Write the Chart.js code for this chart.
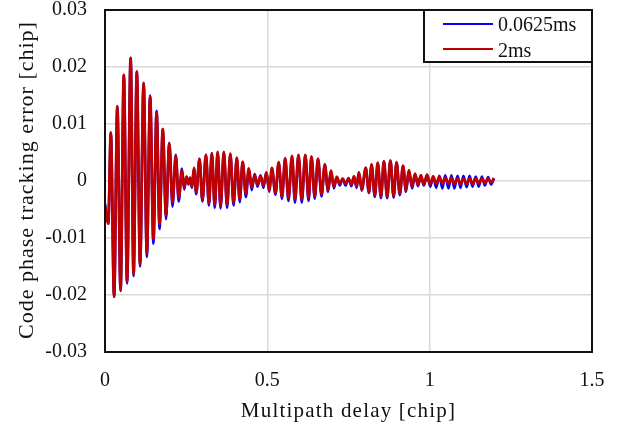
<!DOCTYPE html>
<html>
<head>
<meta charset="utf-8">
<script src="https://cdn.jsdelivr.net/npm/chart.js@4.4.0/dist/chart.umd.min.js"></script>
<style>
  html, body { margin: 0; padding: 0; background: #ffffff; }
  #wrap { width: 622px; height: 429px; }
</style>
</head>
<body>
<div id="wrap"><canvas id="grafico"></canvas></div>
<script>
// Atraso de multipercurso [chip] em cada pico/vale da curva de erro
const atraso = [
  0.000, 0.010, 0.018, 0.028, 0.038, 0.048, 0.058, 0.068, 0.079, 0.088,
  0.098, 0.108, 0.119, 0.129, 0.139, 0.149, 0.159, 0.168, 0.178, 0.188,
  0.198, 0.208, 0.218, 0.227, 0.237, 0.244, 0.251, 0.257, 0.262, 0.268,
  0.274, 0.281, 0.291, 0.300, 0.311, 0.320, 0.329, 0.338, 0.347, 0.356,
  0.366, 0.376, 0.386, 0.396, 0.406, 0.415, 0.424, 0.434, 0.443, 0.452,
  0.461, 0.470, 0.479, 0.488, 0.497, 0.506, 0.514, 0.525, 0.535, 0.545,
  0.555, 0.565, 0.576, 0.585, 0.596, 0.606, 0.617, 0.627, 0.636, 0.646,
  0.656, 0.667, 0.677, 0.687, 0.696, 0.705, 0.714, 0.723, 0.732, 0.741,
  0.750, 0.759, 0.767, 0.775, 0.782, 0.791, 0.803, 0.813, 0.821, 0.831,
  0.840, 0.850, 0.859, 0.869, 0.879, 0.889, 0.898, 0.908, 0.918, 0.927,
  0.936, 0.946, 0.955, 0.964, 0.973, 0.982, 0.992, 1.002, 1.011, 1.020,
  1.030, 1.039, 1.048, 1.058, 1.067, 1.076, 1.086, 1.095, 1.104, 1.114,
  1.123, 1.132, 1.142, 1.151, 1.161, 1.170, 1.180, 1.189, 1.198
];

// Erro de rastreio [chip] - integração 0.0625ms (azul)
const erroCurto = [
  -0.0040, -0.0075, 0.0085, -0.0203, 0.0131, -0.0193, 0.0186, -0.0180, 0.0216, -0.0167,
  0.0192, -0.0150, 0.0172, -0.0133, 0.0150, -0.0110, 0.0123, -0.0084, 0.0091, -0.0067,
  0.0067, -0.0045, 0.0046, -0.0036, 0.0022, -0.0015, 0.0008, -0.0006, 0.0005, -0.0012,
  0.0022, -0.0023, 0.0038, -0.0036, 0.0046, -0.0043, 0.0048, -0.0047, 0.0050, -0.0048,
  0.0050, -0.0047, 0.0047, -0.0043, 0.0040, -0.0037, 0.0033, -0.0028, 0.0021, -0.0016,
  0.0012, -0.0010, 0.0010, -0.0012, 0.0015, -0.0019, 0.0022, -0.0024, 0.0032, -0.0031,
  0.0039, -0.0035, 0.0043, -0.0038, 0.0045, -0.0038, 0.0045, -0.0035, 0.0042, -0.0031,
  0.0038, -0.0027, 0.0028, -0.0019, 0.0018, -0.0013, 0.0007, -0.0008, 0.0004, -0.0008,
  0.0005, -0.0009, 0.0008, -0.0012, 0.0015, -0.0017, 0.0023, -0.0021, 0.0028, -0.0028,
  0.0031, -0.0030, 0.0034, -0.0030, 0.0035, -0.0029, 0.0032, -0.0025, 0.0026, -0.0019,
  0.0018, -0.0013, 0.0012, -0.0009, 0.0010, -0.0008, 0.0010, -0.0010, 0.0008, -0.0012,
  0.0009, -0.0013, 0.0010, -0.0013, 0.0010, -0.0013, 0.0009, -0.0012, 0.0009, -0.0011,
  0.0009, -0.0010, 0.0008, -0.0010, 0.0008, -0.0008, 0.0007, -0.0006, 0.0005
];

// Erro de rastreio [chip] - integração 2ms (vermelho)
const erroLongo = [
  -0.0044, -0.0075, 0.0085, -0.0203, 0.0131, -0.0191, 0.0186, -0.0176, 0.0216, -0.0162,
  0.0192, -0.0145, 0.0172, -0.0127, 0.0149, -0.0102, 0.0120, -0.0076, 0.0091, -0.0060,
  0.0066, -0.0038, 0.0044, -0.0029, 0.0018, -0.0012, 0.0007, -0.0004, 0.0006, -0.0010,
  0.0023, -0.0020, 0.0039, -0.0033, 0.0046, -0.0039, 0.0049, -0.0042, 0.0051, -0.0043,
  0.0051, -0.0042, 0.0048, -0.0038, 0.0041, -0.0032, 0.0034, -0.0022, 0.0022, -0.0011,
  0.0010, -0.0006, 0.0009, -0.0008, 0.0015, -0.0016, 0.0023, -0.0021, 0.0033, -0.0027,
  0.0040, -0.0030, 0.0044, -0.0032, 0.0046, -0.0032, 0.0046, -0.0030, 0.0043, -0.0027,
  0.0039, -0.0023, 0.0029, -0.0016, 0.0018, -0.0010, 0.0007, -0.0005, 0.0004, -0.0005,
  0.0004, -0.0006, 0.0008, -0.0010, 0.0015, -0.0015, 0.0023, -0.0019, 0.0029, -0.0025,
  0.0032, -0.0027, 0.0035, -0.0027, 0.0036, -0.0026, 0.0033, -0.0022, 0.0027, -0.0016,
  0.0019, -0.0010, 0.0013, -0.0007, 0.0010, -0.0006, 0.0011, -0.0006, 0.0008, -0.0005,
  0.0007, -0.0004, 0.0006, -0.0004, 0.0006, -0.0005, 0.0005, -0.0005, 0.0004, -0.0005,
  0.0005, -0.0005, 0.0005, -0.0004, 0.0005, -0.0004, 0.0005, -0.0003, 0.0005
];

const nomesSeries = ['0.0625ms', '2ms'];
const coresSeries = ['#0000ff', '#c00000'];

const xTicks = [0, 0.5, 1, 1.5];
const xTickLabels = ['0', '0.5', '1', '1.5'];
const yTicks = [-0.03, -0.02, -0.01, 0, 0.01, 0.02, 0.03];
const yTickLabels = ['-0.03', '-0.02', '-0.01', '0', '0.01', '0.02', '0.03'];

const tituloX = 'Multipath delay [chip]';
const tituloY = 'Code phase tracking error [chip]';

const fonteSerif = '"Liberation Serif", "DejaVu Serif", serif';

function montarPontos(valores) {
    return atraso.map((x, i) => ({ x: x, y: valores[i] }));
}

// Moldura, legenda em caixa e títulos dos eixos (com espaçamento entre letras)
const pluginMoldura = {
    id: 'moldura',
    afterDraw(chart) {
        const ctx = chart.ctx;
        const area = chart.chartArea;
        ctx.save();

        // moldura do gráfico
        ctx.strokeStyle = '#111';
        ctx.lineWidth = 2;
        ctx.strokeRect(area.left, area.top, area.right - area.left, area.bottom - area.top);

        // caixa da legenda
        const larg = 168, alt = 52;
        const lx = area.right - larg, ly = area.top;
        ctx.fillStyle = '#ffffff';
        ctx.fillRect(lx, ly, larg, alt);
        ctx.strokeRect(lx, ly, larg, alt);

        ctx.font = '20px ' + fonteSerif;
        ctx.textAlign = 'left';
        ctx.textBaseline = 'alphabetic';
        const linhasY = [ly + 14, ly + 39];
        const textoY = [ly + 21, ly + 47];
        nomesSeries.forEach((nome, i) => {
            ctx.strokeStyle = coresSeries[i];
            ctx.lineWidth = 2;
            ctx.beginPath();
            ctx.moveTo(lx + 19, linhasY[i]);
            ctx.lineTo(lx + 69, linhasY[i]);
            ctx.stroke();
            ctx.fillStyle = '#111';
            ctx.fillText(nome, lx + 74, textoY[i]);
        });

        // títulos dos eixos
        ctx.font = '21px ' + fonteSerif;
        ctx.letterSpacing = '1.2px';
        ctx.fillStyle = '#111';
        ctx.textAlign = 'center';
        ctx.fillText(tituloX, (area.left + area.right) / 2, 417);

        ctx.translate(33, 180);
        ctx.rotate(-Math.PI / 2);
        ctx.font = '22px ' + fonteSerif;
        ctx.letterSpacing = '1px';
        ctx.fillText(tituloY, 0, 0);
        ctx.restore();
    }
};

const ctx = document.getElementById('grafico').getContext('2d');

new Chart(ctx, {
    type: 'line',
    data: {
        datasets: [
            {
                label: nomesSeries[0],
                data: montarPontos(erroCurto),
                borderColor: coresSeries[0],
                borderWidth: 2.6,
                pointRadius: 0,
                cubicInterpolationMode: 'monotone',
                order: 2
            },
            {
                label: nomesSeries[1],
                data: montarPontos(erroLongo),
                borderColor: coresSeries[1],
                borderWidth: 2.8,
                pointRadius: 0,
                cubicInterpolationMode: 'monotone',
                order: 1
            }
        ]
    },
    options: {
        responsive: true,
        maintainAspectRatio: false,
        animation: false,
        layout: { padding: { top: 10, right: 30, left: 0, bottom: 0 } },
        plugins: {
            legend: { display: false },
            tooltip: { enabled: false }
        },
        scales: {
            x: {
                type: 'linear',
                min: 0,
                max: 1.5,
                afterFit: (scale) => {
                    scale.height = 77;
                    scale.paddingLeft = 0;
                    scale.paddingRight = 0;
                },
                afterBuildTicks: (scale) => { scale.ticks = xTicks.map(v => ({ value: v })); },
                grid: { color: '#d9d9d9', lineWidth: 1.5, drawTicks: false },
                border: { display: false },
                ticks: {
                    padding: 17,
                    color: '#111',
                    maxRotation: 0,
                    font: { family: fonteSerif, size: 20 },
                    callback: (v, i) => xTickLabels[i]
                }
            },
            y: {
                min: -0.03,
                max: 0.03,
                afterFit: (scale) => {
                    scale.width = 105;
                    scale.paddingTop = 0;
                    scale.paddingBottom = 0;
                },
                afterBuildTicks: (scale) => { scale.ticks = yTicks.map(v => ({ value: v })); },
                grid: { color: '#d9d9d9', lineWidth: 1.5, drawTicks: false },
                border: { display: false },
                ticks: {
                    padding: 18,
                    color: '#111',
                    font: { family: fonteSerif, size: 20 },
                    callback: (v, i) => yTickLabels[i]
                }
            }
        }
    },
    plugins: [pluginMoldura]
});
</script>
</body>
</html>
